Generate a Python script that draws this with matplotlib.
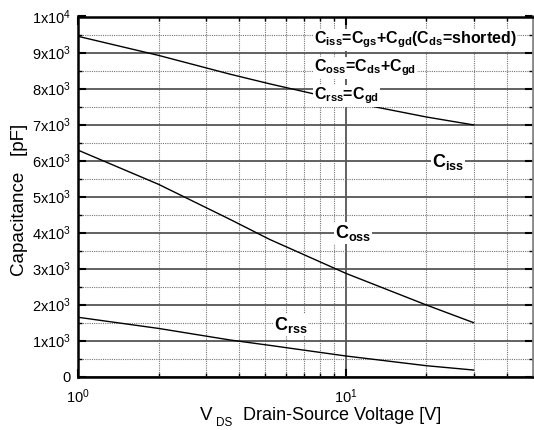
import matplotlib.pyplot as plt
from matplotlib.ticker import FixedLocator, FixedFormatter, NullFormatter

plt.rcParams['font.family'] = ['Liberation Sans', 'DejaVu Sans']
plt.rcParams['mathtext.fontset'] = 'custom'
plt.rcParams['mathtext.rm'] = 'Liberation Sans'
plt.rcParams['mathtext.it'] = 'Liberation Sans:italic'
plt.rcParams['mathtext.bf'] = 'Liberation Sans:bold'

# data
vds = [1, 2, 3.69, 5.2, 10, 20, 30]
ciss = [9450, 8920, 8400, 8130, 7650, 7210, 6990]
coss = [6290, 5340, 4370, 3810, 2870, 1990, 1500]
crss = [1650, 1340, 1020, 870, 575, 305, 185]

y_ticks = [0, 1000, 2000, 3000, 4000, 5000, 6000, 7000, 8000, 9000, 10000]
y_labels = ['0'] + [r'$\mathregular{%dx10^3}$' % i for i in range(1, 10)] + [r'$\mathregular{1x10^4}$']
x_ticks = [1, 10]
x_labels = [r'$\mathregular{10^0}$', r'$\mathregular{10^1}$']

fig = plt.figure(figsize=(5.34, 4.30), dpi=100)
ax = fig.add_axes([78 / 534, (430 - 376.7) / 430, 455 / 534, 360.2 / 430])

for y in (ciss, coss, crss):
    ax.plot(vds, y, color='black', lw=1.0, zorder=3)

ax.set_xscale('log')
ax.set_xlim(1, 50)
ax.set_ylim(0, 10000)

ax.yaxis.set_major_locator(FixedLocator(y_ticks))
ax.yaxis.set_major_formatter(FixedFormatter(y_labels))
ax.yaxis.set_minor_locator(FixedLocator([500 + 1000 * i for i in range(10)]))
ax.xaxis.set_major_locator(FixedLocator(x_ticks))
ax.xaxis.set_major_formatter(FixedFormatter(x_labels))
ax.xaxis.set_minor_locator(FixedLocator([2, 3, 4, 5, 6, 7, 8, 9, 20, 30, 40]))
ax.xaxis.set_minor_formatter(NullFormatter())

ax.grid(which='major', color='#555555', lw=1.3, ls='-')
ax.grid(which='minor', color='#777777', lw=0.8, ls=(0, (1, 1)))
ax.set_axisbelow(True)

ax.tick_params(which='both', direction='in', top=True, right=True, labelsize=10.5)
ax.tick_params(which='major', length=6, width=1.5)
ax.tick_params(which='minor', length=3, width=1)
ax.tick_params(axis='x', pad=8)
ax.tick_params(axis='y', pad=5)
for s in ('left', 'bottom', 'top'):
    ax.spines[s].set_linewidth(1.8)
ax.spines['right'].set_color('#888888')
ax.spines['right'].set_linewidth(2)

fig.text(20 / 534, 1 - 200 / 430, 'Capacitance   [pF]', rotation=90,
         ha='center', va='center', fontsize=13.5)
fig.text(200 / 534, 1 - 415 / 430, 'V', ha='left', va='center', fontsize=13.5)
fig.text(216 / 534, 1 - 423 / 430, 'DS', ha='left', va='center', fontsize=8.5)
fig.text(243 / 534, 1 - 415 / 430, 'Drain-Source Voltage [V]', ha='left', va='center', fontsize=13)

box = dict(facecolor='white', edgecolor='none', pad=0.5)
tkw = dict(transform=fig.transFigure, ha='left', va='center',
           fontweight='bold', zorder=5, bbox=box)
ax.text(314 / 534, 1 - 40 / 430,
        r'C$_\mathbf{iss}$=C$_\mathbf{gs}$+C$_\mathbf{gd}$(C$_\mathbf{ds}$=shorted)',
        fontsize=11.5, **tkw)
ax.text(314 / 534, 1 - 68 / 430, r'C$_\mathbf{oss}$=C$_\mathbf{ds}$+C$_\mathbf{gd}$',
        fontsize=11.5, **tkw)
ax.text(314 / 534, 1 - 96 / 430, r'C$_\mathbf{rss}$=C$_\mathbf{gd}$', fontsize=11.5, **tkw)
ax.text(432 / 534, 1 - 162 / 430, r'C$_\mathbf{iss}$', fontsize=13, **tkw)
ax.text(335 / 534, 1 - 233 / 430, r'C$_\mathbf{oss}$', fontsize=13, **tkw)
ax.text(274 / 534, 1 - 325 / 430, r'C$_\mathbf{rss}$', fontsize=13, **tkw)

fig.savefig('out.png', dpi=100)
